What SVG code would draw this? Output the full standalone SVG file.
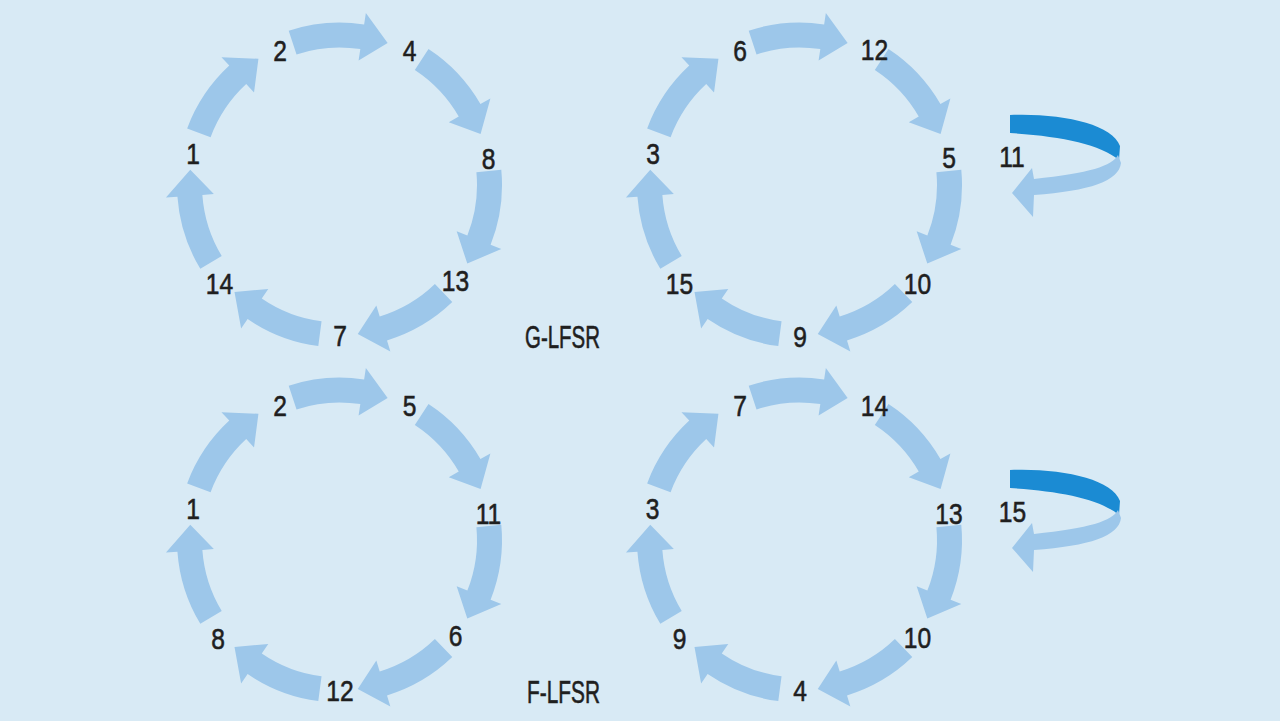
<svg xmlns="http://www.w3.org/2000/svg" xmlns:xlink="http://www.w3.org/1999/xlink" width="1280" height="721" viewBox="0 0 1280 721">
<style>
.bg{fill:#d8eaf5}
.arr{fill:#9dc7ea}
.dark{fill:#1b8bd3}
.light{fill:#9dc7ea}
.lbl{font-family:"Liberation Sans",Arial,sans-serif;font-size:30px;fill:#1f1f1f;stroke:#1f1f1f;stroke-width:0.6px;text-anchor:middle}
.cap{font-family:"Liberation Sans",Arial,sans-serif;font-size:32px;fill:#1f1f1f;stroke:#1f1f1f;stroke-width:0.6px}
</style>
<defs>
<path id="arr" d="M -21.210 161.110 A 162.5 162.5 0 0 1 -91.877 134.033 L -98.379 143.518 L -105.006 107.116 L -71.240 103.927 L -77.742 113.412 A 137.5 137.5 0 0 0 -17.947 136.324 Z"/>
<g id="ring" class="arr">
<use xlink:href="#arr" href="#arr"/>
<use xlink:href="#arr" href="#arr" transform="rotate(51.4286)"/>
<use xlink:href="#arr" href="#arr" transform="rotate(102.8571)"/>
<use xlink:href="#arr" href="#arr" transform="rotate(154.2857)"/>
<use xlink:href="#arr" href="#arr" transform="rotate(205.7143)"/>
<use xlink:href="#arr" href="#arr" transform="rotate(257.1429)"/>
<use xlink:href="#arr" href="#arr" transform="rotate(308.5714)"/>
</g>
<g id="loop">
<path class="dark" d="M1010,115 C1062,113 1112,124 1120,146 L1119,160 C1100,144 1060,136 1010,133 Z"/>
<path class="light" d="M1118,155 C1112,166 1090,173 1034,179 L1032,168 L1012,193 L1033,217 L1034,195 C1090,191 1119,181 1121,163 Z"/>
</g>
</defs>
<rect class="bg" x="0" y="0" width="1280" height="721"/>
<g id="connectors">
<use xlink:href="#ring" href="#ring" transform="translate(339.5,185)"/>
<use xlink:href="#ring" href="#ring" transform="translate(799.5,185)"/>
<use xlink:href="#ring" href="#ring" transform="translate(339.5,540)"/>
<use xlink:href="#ring" href="#ring" transform="translate(799.5,540)"/>
<use xlink:href="#loop" href="#loop"/>
<use xlink:href="#loop" href="#loop" transform="translate(0,355)"/>
</g>
<g id="g-lfsr-left">
<text class="lbl" transform="translate(340,346) scale(0.82,1)">7</text>
<text class="lbl" transform="translate(219.5,293.5) scale(0.82,1)">14</text>
<text class="lbl" transform="translate(193,163.5) scale(0.82,1)">1</text>
<text class="lbl" transform="translate(280,61) scale(0.82,1)">2</text>
<text class="lbl" transform="translate(409.5,61) scale(0.82,1)">4</text>
<text class="lbl" transform="translate(488.5,168.5) scale(0.82,1)">8</text>
<text class="lbl" transform="translate(455.5,291) scale(0.82,1)">13</text>
</g>
<g id="g-lfsr-right">
<text class="lbl" transform="translate(800,347) scale(0.82,1)">9</text>
<text class="lbl" transform="translate(679.5,293.5) scale(0.82,1)">15</text>
<text class="lbl" transform="translate(653,163.5) scale(0.82,1)">3</text>
<text class="lbl" transform="translate(740,61) scale(0.82,1)">6</text>
<text class="lbl" transform="translate(874.5,60) scale(0.82,1)">12</text>
<text class="lbl" transform="translate(949,168) scale(0.82,1)">5</text>
<text class="lbl" transform="translate(917.5,294) scale(0.82,1)">10</text>
</g>
<g id="g-lfsr-fixed">
<text class="lbl" transform="translate(1012,167) scale(0.82,1)">11</text>
</g>
<g id="f-lfsr-left">
<text class="lbl" transform="translate(340,701) scale(0.82,1)">12</text>
<text class="lbl" transform="translate(218,648.5) scale(0.82,1)">8</text>
<text class="lbl" transform="translate(193,518.5) scale(0.82,1)">1</text>
<text class="lbl" transform="translate(280,416) scale(0.82,1)">2</text>
<text class="lbl" transform="translate(409.5,416) scale(0.82,1)">5</text>
<text class="lbl" transform="translate(488.5,523.5) scale(0.82,1)">11</text>
<text class="lbl" transform="translate(455.5,646) scale(0.82,1)">6</text>
</g>
<g id="f-lfsr-right">
<text class="lbl" transform="translate(800,701) scale(0.82,1)">4</text>
<text class="lbl" transform="translate(679.5,648.5) scale(0.82,1)">9</text>
<text class="lbl" transform="translate(652.5,518.5) scale(0.82,1)">3</text>
<text class="lbl" transform="translate(740,416) scale(0.82,1)">7</text>
<text class="lbl" transform="translate(874.5,416) scale(0.82,1)">14</text>
<text class="lbl" transform="translate(949,523.5) scale(0.82,1)">13</text>
<text class="lbl" transform="translate(917.5,648) scale(0.82,1)">10</text>
</g>
<g id="f-lfsr-fixed">
<text class="lbl" transform="translate(1012.5,521.5) scale(0.82,1)">15</text>
</g>
<g id="caption-g">
<text class="cap" x="525" y="348" textLength="75" lengthAdjust="spacingAndGlyphs">G-LFSR</text>
</g>
<g id="caption-f">
<text class="cap" x="527" y="703" textLength="73" lengthAdjust="spacingAndGlyphs">F-LFSR</text>
</g>
</svg>
